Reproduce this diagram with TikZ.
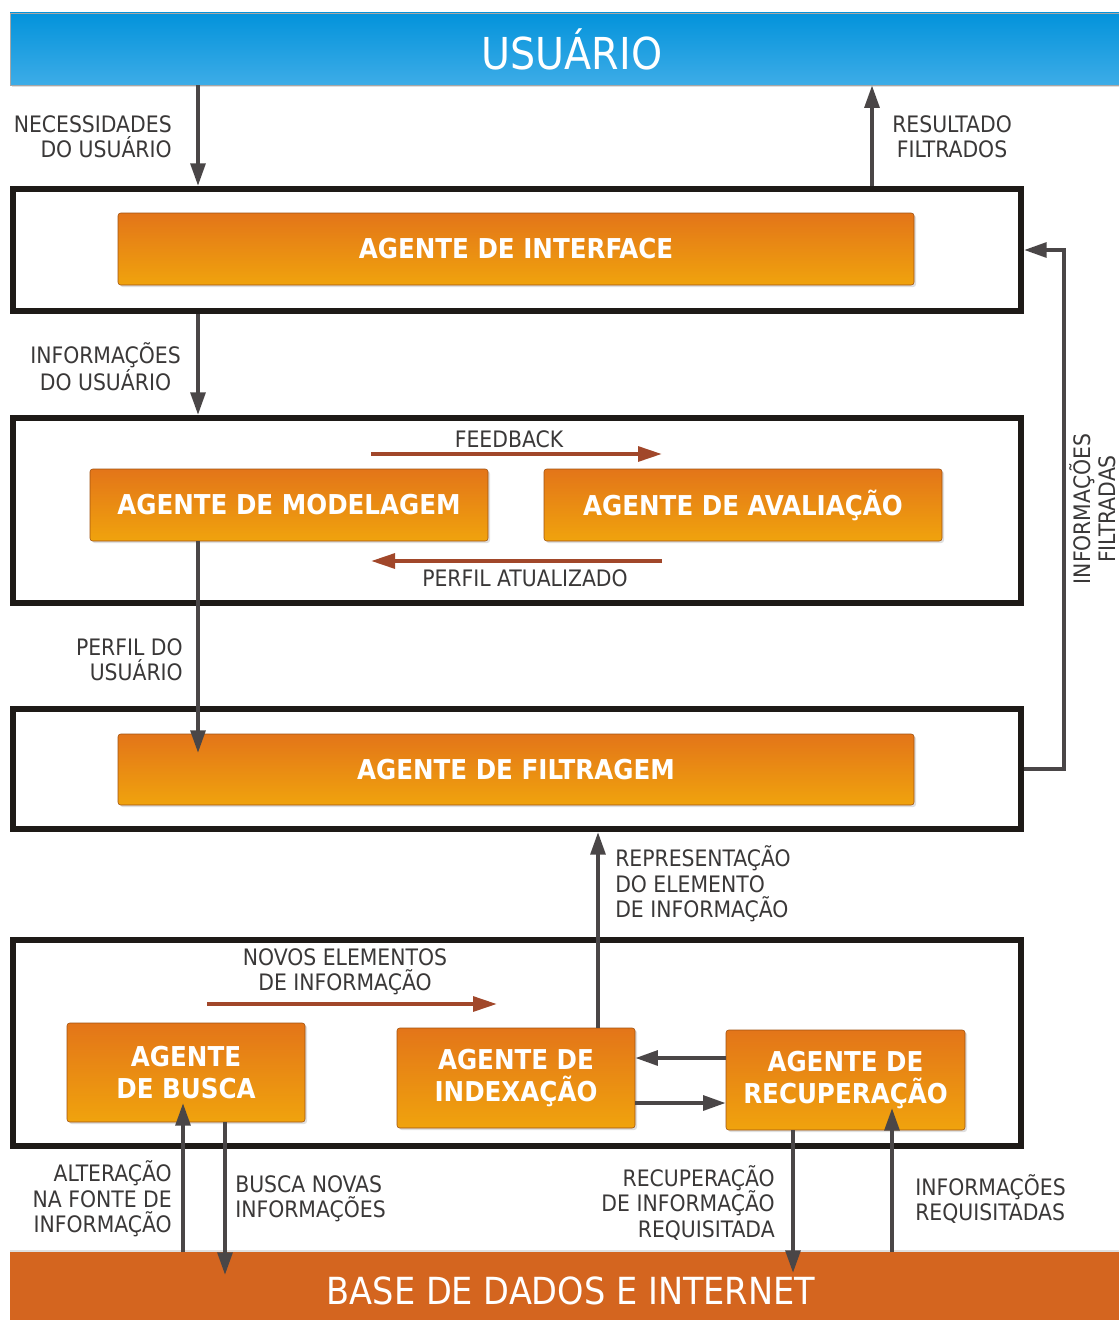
\documentclass[tikz,border=0pt]{standalone}
\usepackage{fontspec}
\setmainfont{DejaVu Sans Condensed}
\usetikzlibrary{arrows.meta,fit,shadows,calc}
\definecolor{blueTop}{HTML}{0393DB}
\definecolor{blueBot}{HTML}{3DACE7}
\definecolor{orTop}{HTML}{E37519}
\definecolor{orBot}{HTML}{F0A30D}
\definecolor{baseC}{HTML}{D4651F}
\definecolor{arrG}{HTML}{4A4647}
\definecolor{brownA}{HTML}{A1472A}
\definecolor{frameC}{HTML}{1E1A17}
\definecolor{txtC}{HTML}{3A3838}
\begin{document}
\begin{tikzpicture}[x=0.75pt,y=-0.75pt,
  frame/.style={draw=frameC, line width=4.5pt, inner sep=0pt},
  agent/.style={draw=orTop!70!black, line width=0.4pt, rounded corners=2pt,
    top color=orTop, bottom color=orBot, inner sep=0pt, text=white,
    font=\bfseries\fontsize{20.5}{23.5}\selectfont, align=center,
    drop shadow={opacity=0.25, shadow xshift=1.5pt, shadow yshift=-1.5pt}},
  bar/.style={inner sep=0pt, text=white, font=\fontsize{33}{36}\selectfont},
  lbl/.style={inner sep=0pt, text=txtC, font=\fontsize{17}{19}\selectfont},
  garrow/.style={draw=arrG, line width=3pt, -{Triangle[length=17pt,width=11pt]}},
  barrow/.style={draw=brownA, line width=3pt, -{Triangle[length=18pt,width=11pt]}},
]
\useasboundingbox (0,0) rectangle (1119,1320);

% bars
\node[bar, minimum width=843pt, minimum height=54pt, top color=blueTop, bottom color=blueBot,
  draw=gray!70, line width=0.4pt,
  drop shadow={opacity=0.25, shadow xshift=1.5pt, shadow yshift=-1.5pt}] (usuario) at (572,49) {USUÁRIO};
\node[bar, minimum width=841.5pt, minimum height=58.5pt, fill=baseC,
  font=\fontsize{28}{32}\selectfont,
  drop shadow={opacity=0.25, shadow xshift=0pt, shadow yshift=1.5pt}] (base) at (571,1291) {BASE DE DADOS E INTERNET};

% frames
\node[frame, fit={(13,189) (1021,311)}] (f1) {};
\node[frame, fit={(13,418) (1021,603)}] (f2) {};
\node[frame, fit={(13,709) (1021,829)}] (f3) {};
\node[frame, fit={(13,940) (1021,1146)}] (f4) {};

% agents
\node[agent, minimum width=597pt, minimum height=54pt] (interface) at (516,249) {AGENTE DE INTERFACE};
\node[agent, minimum width=298.5pt, minimum height=54pt] (modelagem) at (289,505) {AGENTE DE MODELAGEM};
\node[agent, minimum width=298.5pt, minimum height=54pt] (avaliacao) at (743,505) {AGENTE DE AVALIAÇÃO};
\node[agent, minimum width=597pt, minimum height=53.25pt] (filtragem) at (516,769.5) {AGENTE DE FILTRAGEM};
\node[agent, minimum width=178.5pt, minimum height=74.25pt] (busca) at (186,1072.5) {AGENTE\\DE BUSCA};
\node[agent, minimum width=178.5pt, minimum height=75pt] (indexacao) at (516,1078) {AGENTE DE\\INDEXAÇÃO};
\node[agent, minimum width=179.25pt, minimum height=75pt] (recuperacao) at (845.5,1080) {AGENTE DE\\RECUPERAÇÃO};

% free ends
\coordinate (pfend) at (198,753);
\coordinate (altend) at (183,1103);
\coordinate (bnend) at (225,1275);
\coordinate (recend) at (793,1273);
\coordinate (reqend) at (892,1108);
\coordinate (fbA) at (371,454);
\coordinate (fbB) at (662,454);
\coordinate (paA) at (662,561);
\coordinate (paB) at (371,561);
\coordinate (nvA) at (207,1004);
\coordinate (nvB) at (497,1004);

% gray connectors
\draw[garrow] (usuario.south -| 198,0) -- (f1.north -| 198,0);
\draw[garrow] (f1.north -| 872,0) -- (usuario.south -| 872,0);
\draw[garrow] (f1.south -| 198,0) -- (f2.north -| 198,0);
\draw[garrow] (modelagem.south -| 198,0) -- (pfend);
\draw[garrow] (indexacao.north -| 598,0) -- (f3.south -| 598,0);
\draw[garrow] (f3.east) -- ++(40,0) |- (f1.east);
\draw[garrow] (recuperacao.west |- 0,1058) -- (indexacao.east |- 0,1058);
\draw[garrow] (indexacao.east |- 0,1103) -- (recuperacao.west |- 0,1103);
\draw[garrow] (base.north -| 183,0) -- (altend);
\draw[garrow] (busca.south -| 225,0) -- (bnend);
\draw[garrow] (recuperacao.south -| 793,0) -- (recend);
\draw[garrow] (base.north -| 892,0) -- (reqend);

% brown connectors
\draw[barrow] (fbA) -- (fbB);
\draw[barrow] (paA) -- (paB);
\draw[barrow] (nvA) -- (nvB);

% labels
\node[lbl, anchor=east, align=right] (lnec) at (172,137) {NECESSIDADES\\DO USUÁRIO};
\node[lbl, anchor=west, align=center] (lres) at (892,137) {RESULTADO\\FILTRADOS};
\node[lbl, anchor=east, align=center] (linf) at (181,367) {INFORMAÇÕES\\DO USUÁRIO};
\node[lbl] (lfb) at (509,439) {FEEDBACK};
\node[lbl] (lpa) at (525,578) {PERFIL ATUALIZADO};
\node[lbl, anchor=east, align=right] (lpu) at (183,660) {PERFIL DO\\USUÁRIO};
\node[lbl, anchor=west, align=left] (lrep) at (615,884) {REPRESENTAÇÃO\\DO ELEMENTO\\DE INFORMAÇÃO};
\node[lbl, align=center] (lnov) at (345,972) {NOVOS ELEMENTOS\\DE INFORMAÇÃO};
\node[lbl, anchor=east, align=right] (lalt) at (172,1199) {ALTERAÇÃO\\NA FONTE DE\\INFORMAÇÃO};
\node[lbl, anchor=west, align=left] (lbn) at (235,1199) {BUSCA NOVAS\\INFORMAÇÕES};
\node[lbl, anchor=east, align=right] (lrec) at (775,1203) {RECUPERAÇÃO\\DE INFORMAÇÃO\\REQUISITADA};
\node[lbl, anchor=west, align=left] (lreq) at (915,1199) {INFORMAÇÕES\\REQUISITADAS};
\node[lbl, align=center, rotate=90] (lfil) at (1093,509) {INFORMAÇÕES\\FILTRADAS};
\end{tikzpicture}
\end{document}
